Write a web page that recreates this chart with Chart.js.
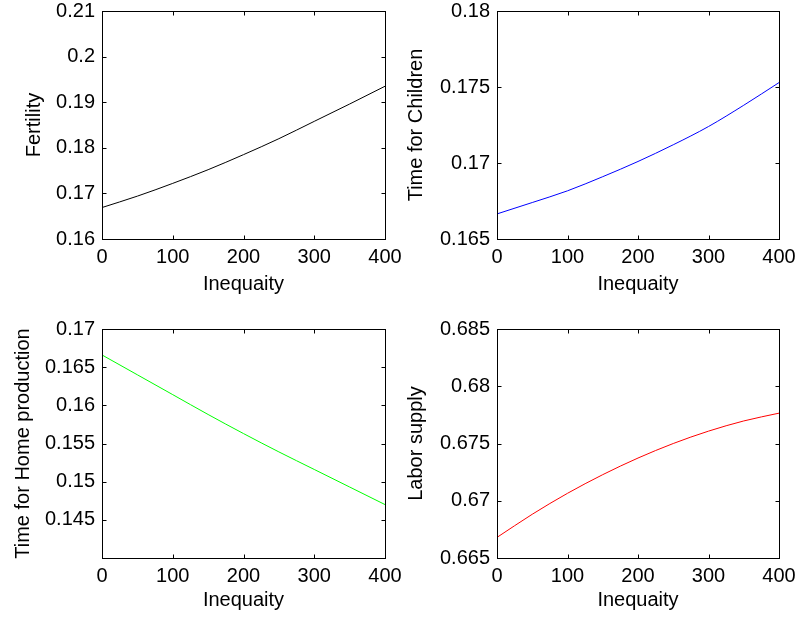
<!DOCTYPE html>
<html>
<head>
<meta charset="utf-8">
<script src="https://cdn.jsdelivr.net/npm/chart.js@4.4.0/dist/chart.umd.min.js"></script>
<style>
  body { margin: 0; background: #fff; }
  #wrap { position: relative; width: 798px; height: 621px; overflow: hidden; }
  canvas { position: absolute; }
</style>
</head>
<body>
<div id="wrap">
  <canvas id="c1" width="405" height="305" style="left:0;top:0"></canvas>
  <canvas id="c2" width="398" height="305" style="left:400px;top:0"></canvas>
  <canvas id="c3" width="405" height="303" style="left:0;top:318px"></canvas>
  <canvas id="c4" width="398" height="303" style="left:400px;top:318px"></canvas>
</div>
<script>
// x values (inequality)
const inequality = [0, 50, 100, 150, 200, 250, 300, 350, 400];

// series
const fertility     = [0.1669, 0.1694, 0.1722, 0.1752, 0.1785, 0.1820, 0.1858, 0.1896, 0.1935];
const timeChildren  = [0.16665, 0.1674, 0.16817, 0.1691, 0.1701, 0.1712, 0.1724, 0.1738, 0.17529];
const timeHome      = [0.1666, 0.1640, 0.1614, 0.1588, 0.1563, 0.1539, 0.1516, 0.1493, 0.1470];
const laborSupply   = [0.66680, 0.66882, 0.67065, 0.67228, 0.67373, 0.67500, 0.67608, 0.67697, 0.67765];

// axis tick settings
const xTicks = { min: 0, max: 400, step: 100 };
const yTicks1 = { min: 0.16, max: 0.21, step: 0.01 };
const yTicks2 = { min: 0.165, max: 0.18, step: 0.005 };
const yTicks3 = { min: 0.14, max: 0.17, step: 0.005, hide: [0.14] };
const yTicks4 = { min: 0.665, max: 0.685, step: 0.005 };

Chart.defaults.font.family = "'Liberation Sans', Arial, sans-serif";
Chart.defaults.font.size = 20;
Chart.defaults.color = '#000';

// box + inward ticks like matlab axes
const boxPlugin = {
  id: 'boxPlugin',
  afterDraw(chart) {
    const ctx = chart.ctx;
    const a = chart.chartArea;
    const L = Math.round(a.left) + 0.5, R = Math.round(a.right) + 0.5;
    const T = Math.round(a.top) + 0.5, B = Math.round(a.bottom) + 0.5;
    ctx.save();
    ctx.strokeStyle = '#000';
    ctx.lineWidth = 1;
    ctx.beginPath();
    const xs = chart.scales.x, ys = chart.scales.y;
    xs.ticks.forEach(t => {
      const px = Math.round(xs.getPixelForValue(t.value)) + 0.5;
      ctx.moveTo(px, B); ctx.lineTo(px, B - 4);
      ctx.moveTo(px, T); ctx.lineTo(px, T + 4);
    });
    ys.ticks.forEach(t => {
      const py = Math.round(ys.getPixelForValue(t.value)) + 0.5;
      ctx.moveTo(L, py); ctx.lineTo(L + 4, py);
      ctx.moveTo(R, py); ctx.lineTo(R - 4, py);
    });
    ctx.stroke();
    ctx.strokeRect(L, T, R - L, B - T);
    ctx.restore();
  }
};

function fmt(v) {
  return String(parseFloat(v.toFixed(4)));
}

function makeChart(id, values, color, yLabel, yT, yAxisWidth, xAxisHeight, pad, yTitlePad) {
  const points = inequality.map((x, i) => ({ x: x, y: values[i] }));
  return new Chart(document.getElementById(id), {
    type: 'line',
    data: {
      datasets: [{
        data: points,
        borderColor: color,
        borderWidth: 1,
        pointRadius: 0,
        fill: false,
        cubicInterpolationMode: 'monotone'
      }]
    },
    options: {
      responsive: false,
      animation: false,
      events: [],
      layout: { padding: pad },
      plugins: { legend: { display: false }, tooltip: { enabled: false } },
      scales: {
        x: {
          type: 'linear',
          min: xTicks.min, max: xTicks.max,
          grid: { display: false, drawTicks: false },
          border: { display: false },
          ticks: { stepSize: xTicks.step, padding: 6, maxRotation: 0, callback: v => fmt(v) },
          title: { display: true, text: 'Inequaity', padding: { top: 0, bottom: 9 } },
          afterFit: s => { s.height = xAxisHeight; s.paddingLeft = 0; s.paddingRight = 0; }
        },
        y: {
          type: 'linear',
          min: yT.min, max: yT.max,
          grid: { display: false, drawTicks: false },
          border: { display: false },
          ticks: {
            stepSize: yT.step, padding: 7,
            callback: v => (yT.hide && yT.hide.some(h => Math.abs(h - v) < 1e-9)) ? '' : fmt(v)
          },
          title: { display: true, text: yLabel, padding: { top: yTitlePad, bottom: 0 } },
          afterFit: s => { s.width = yAxisWidth; s.paddingTop = 0; s.paddingBottom = 0; }
        }
      }
    },
    plugins: [boxPlugin]
  });
}

makeChart('c1', fertility, '#000000', 'Fertility', yTicks1, 102, 66, { left: 0, top: 11, right: 20, bottom: 0 }, 22);
makeChart('c2', timeChildren, '#0000ff', 'Time for Children', yTicks2, 97, 66, { left: 0, top: 11, right: 19, bottom: 0 }, 4);
makeChart('c3', timeHome, '#00ff00', 'Time for Home production', yTicks3, 102, 63, { left: 0, top: 11, right: 20, bottom: 0 }, 11);
makeChart('c4', laborSupply, '#ff0000', 'Labor supply', yTicks4, 97, 63, { left: 0, top: 11, right: 19, bottom: 0 }, 4);
</script>
</body>
</html>
